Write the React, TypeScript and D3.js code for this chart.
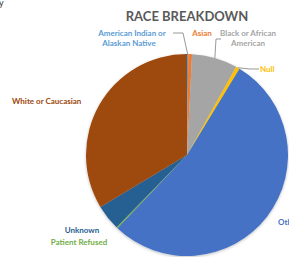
import React from "react";
import * as d3 from "d3";

const categories = [
  "American Indian or Alaskan Native",
  "Asian",
  "Black or African American",
  "Null",
  "Other",
  "Patient Refused",
  "Unknown",
  "White or Caucasian",
];
const shares = [0.2, 0.6, 7.3, 0.6, 53.4, 0.2, 4.1, 33.6];
const colors = ["#5B9BD5", "#ED7D31", "#A5A5A5", "#FFC000", "#4472C4", "#70AD47", "#255E91", "#9E480E"];

const width = 289;
const height = 257;
const cx = 187;
const cy = 155;
const radius = 101;

export default function App() {
  const data = categories.map((c, i) => ({ name: c, value: shares[i], color: colors[i] }));
  const pie = d3.pie<any>().sort(null).value(d => d.value);
  const arcs = pie(data);
  const arc = d3.arc<any>().innerRadius(0).outerRadius(radius);
  const edge = d3.arc<any>().innerRadius(radius).outerRadius(radius);

  // point on the rim of a slice, for leader lines
  const rim = (i: number) => {
    const [x, y] = edge.centroid(arcs[i]);
    return [cx + x, cy + y];
  };
  const ai = rim(0);
  const bl = rim(2);
  const nu = rim(3);

  const font = "Lato, 'Open Sans', sans-serif";

  return (
    <svg width={width} height={height} style={{ position: "absolute", left: 0, top: 0, background: "#fff" }}>
      <defs>
        <filter id="sh" x="-10%" y="-10%" width="120%" height="120%">
          <feDropShadow dx="0" dy="1" stdDeviation="1.5" floodColor="#000" floodOpacity="0.25" />
        </filter>
      </defs>
      <text x={-1} y={6} fontSize={9} fontFamily={font} fill="#333">y</text>
      <text x={187} y={21} textAnchor="middle" fontSize={13} fontWeight="bold" fontFamily={font} fill="#595959">
        RACE BREAKDOWN
      </text>
      <g transform={`translate(${cx},${cy})`} filter="url(#sh)">
        {arcs.map((a, i) => (
          <path key={i} d={arc(a) || ""} fill={a.data.color} />
        ))}
      </g>

      {/* leader lines */}
      <g fill="none" strokeWidth={0.8}>
        <polyline points={`173,33 183,33 ${ai[0]},${ai[1]}`} stroke="#7f7f7f" />
        <polyline points={`221,39 216,39 ${bl[0]},${bl[1]}`} stroke="#7f7f7f" />
        <polyline points={`259,69 250,69 ${nu[0]},${nu[1]}`} stroke="#7f7f7f" />
      </g>

      <g fontFamily={font} fontSize={8} fontWeight="bold">
        <text x={132} y={36} textAnchor="middle" fill={colors[0]}>American Indian or</text>
        <text x={129} y={46} textAnchor="middle" fill={colors[0]}>Alaskan Native</text>
        <text x={202} y={36} textAnchor="middle" fill={colors[1]}>Asian</text>
        <text x={248} y={36} textAnchor="middle" fill={colors[2]}>Black or African</text>
        <text x={248} y={46} textAnchor="middle" fill={colors[2]}>American</text>
        <text x={260} y={72} textAnchor="start" fill={colors[3]}>Null</text>
        <text x={278} y={225} textAnchor="start" fill={colors[4]}>Other</text>
        <text x={12} y={104} textAnchor="start" fill={colors[7]}>White or Caucasian</text>
        <text x={82} y={233} textAnchor="middle" fill={colors[6]}>Unknown</text>
        <text x={79} y={245} textAnchor="middle" fill={colors[5]}>Patient Refused</text>
      </g>
    </svg>
  );
}
